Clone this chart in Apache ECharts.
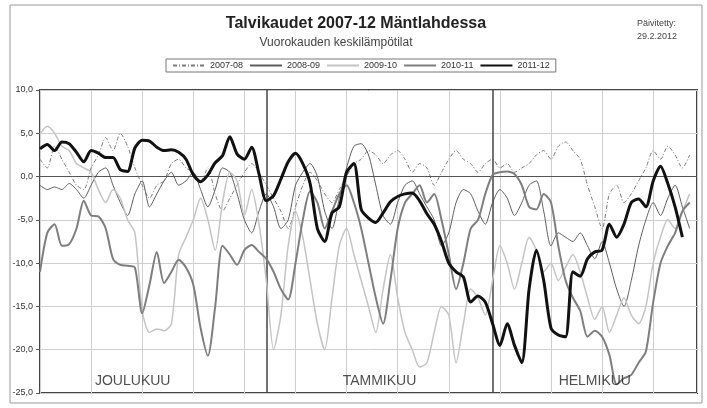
<!DOCTYPE html>
<html><head><meta charset="utf-8">
<script src="https://cdn.jsdelivr.net/npm/echarts@6/dist/echarts.min.js"></script>
<style>html,body{margin:0;padding:0;background:#fff}#c{width:707px;height:408px}</style>
</head><body><div id="c"></div>
<script>
const titleText = 'Talvikaudet 2007-12 Mäntlahdessa';
const subtitleText = 'Vuorokauden keskilämpötilat';
const updatedLines = ['Päivitetty:', '29.2.2012'];
const seriesNames = ['2007-08', '2008-09', '2009-10', '2010-11', '2011-12'];
const yTicks = [10, 5, 0, -5, -10, -15, -20, -25];
const monthNames = ['JOULUKUU', 'TAMMIKUU', 'HELMIKUU'];
const monthLabelDay = [12.7, 46.5, 76];
const monthStartDay = [31, 62];

const s0708 = [2.0,1.0,3.5,2.0,0.5,-1.0,-1.5,1.0,2.5,4.5,
 3.0,5.0,3.5,1.0,-1.0,-2.5,-1.0,-0.5,1.5,2.0,
 1.0,0.5,-0.5,1.0,-2.0,-4.0,-2.5,-1.0,0.5,1.5,
 0.5,-1.0,-2.5,-4.0,-6.0,-3.5,-1.0,0.5,-0.5,-2.0,
 -3.0,-1.5,0.0,1.5,2.0,3.0,2.5,1.5,2.5,3.0,
 2.0,0.5,1.5,1.0,-1.0,0.5,2.0,3.0,2.0,1.5,
 0.5,1.5,2.0,1.0,1.5,0.5,1.0,1.5,2.5,3.0,
 2.0,3.5,4.0,3.0,2.0,-1.0,-3.5,-6.0,-2.0,-1.0,
 -3.0,-2.0,-0.5,1.0,3.0,2.0,3.5,2.5,1.0,2.5];
const s0809 = [-1.0,-1.5,-1.2,-1.5,-0.8,-1.5,-2.5,-1.0,0.5,1.0,
 -1.0,-3.0,-4.5,-2.0,-0.5,-3.5,-2.0,-0.5,0.5,-1.0,
 -0.5,0.5,-1.5,-3.5,-1.5,1.0,0.5,-2.0,-5.0,-6.5,
 -4.0,-2.0,-3.5,-6.0,-5.0,-1.0,0.5,1.5,0.0,-4.0,
 -6.0,-2.5,1.0,3.5,3.8,2.5,-1.0,-4.5,-5.5,-3.0,
 -1.0,-0.5,-2.0,-3.5,-5.0,-8.0,-6.5,-3.0,-1.5,-2.0,
 -4.0,-5.5,-3.0,-1.5,-2.5,-4.5,-3.0,-1.0,-0.5,-4.0,
 -8.0,-6.5,-7.0,-7.5,-6.5,-8.0,-9.5,-7.5,-10.0,-13.0,
 -15.0,-12.0,-8.0,-5.0,-3.0,-4.5,-2.5,-1.0,-3.5,-6.0];
const s0910 = [4.9,5.8,5.0,3.5,3.0,1.5,1.0,0.5,-1.5,-3.0,
 -1.5,-2.5,-5.0,-6.5,-15.5,-18.0,-17.6,-17.8,-17.0,-9.0,
 -7.0,-5.0,-2.5,-5.0,-8.5,-3.0,0.5,-0.5,-4.5,-1.5,
 -5.5,-12.0,-20.0,-16.0,-8.0,-4.0,-7.0,-12.0,-17.0,-20.0,
 -14.0,-8.0,-6.0,-9.0,-12.0,-15.0,-18.0,-13.0,-9.0,-14.0,
 -18.0,-20.0,-22.0,-21.5,-18.0,-15.0,-16.0,-21.5,-17.0,-13.0,
 -14.0,-16.0,-12.0,-8.0,-10.0,-13.0,-10.0,-7.0,-8.5,-11.0,
 -10.0,-12.0,-10.5,-9.0,-11.0,-14.0,-16.5,-15.0,-18.0,-16.0,
 -14.0,-16.0,-17.0,-15.0,-10.0,-7.0,-5.0,-6.0,-4.0,-2.0];
const s1011 = [-11.0,-6.5,-5.5,-8.0,-7.8,-6.0,-2.8,-4.5,-4.6,-6.0,
 -9.5,-10.2,-10.3,-10.5,-15.8,-12.5,-8.7,-12.3,-11.0,-9.6,
 -10.5,-12.5,-17.5,-20.7,-15.0,-8.0,-9.0,-10.2,-8.5,-7.9,
 -8.7,-9.5,-11.0,-13.0,-14.2,-10.0,-5.0,-1.7,-3.0,-6.0,
 -4.0,-2.0,-1.0,-3.0,-6.0,-10.0,-14.0,-17.0,-12.0,-6.0,
 -3.0,-2.0,-1.0,-3.0,-2.0,-5.0,-9.0,-13.0,-10.0,-6.0,
 -5.0,-2.0,0.2,0.5,0.6,0.3,-1.0,-3.5,-3.8,-2.0,
 -3.0,-8.0,-12.0,-14.0,-15.5,-18.5,-17.8,-18.5,-20.6,-24.0,
 -23.3,-22.9,-21.5,-20.2,-14.5,-10.0,-8.0,-6.5,-4.0,-3.0];
const s1112 = [3.2,3.7,3.0,4.0,3.8,2.8,1.7,3.0,2.7,2.2,
 2.2,0.8,0.6,3.3,4.2,4.1,3.4,3.0,3.1,2.8,
 2.0,0.2,-0.6,0.2,1.6,2.4,4.6,2.6,2.0,3.4,
 0.3,-2.8,-2.2,-0.3,1.7,2.7,1.5,-0.8,-6.0,-7.5,
 -4.2,-3.5,0.5,1.5,-3.8,-4.8,-5.3,-4.2,-2.9,-2.3,
 -2.0,-1.9,-2.8,-4.3,-5.5,-7.5,-10.0,-11.0,-11.6,-14.5,
 -13.8,-14.5,-17.0,-19.5,-17.0,-19.5,-21.5,-13.0,-8.5,-12.0,
 -17.5,-18.3,-18.5,-11.0,-11.5,-9.5,-8.7,-8.5,-5.5,-7.0,
 -5.5,-3.0,-2.6,-3.5,-0.5,1.2,-0.8,-3.5,-7.0];

const allValues = [s0708, s0809, s0910, s1011, s1112];
const styles = [
  {color:'#7a7a7a', width:1, type:[4,2,1,2]},
  {color:'#5e5e5e', width:1, type:'solid'},
  {color:'#c4c4c4', width:1.5, type:'solid'},
  {color:'#7e7e7e', width:2, type:'solid'},
  {color:'#111111', width:3, type:'solid'}
];
const FONT = '"Liberation Sans", Arial, sans-serif';

const chart = echarts.init(document.getElementById('c'), null, {renderer:'canvas'});
const series = allValues.map((vals, k) => ({
  name: seriesNames[k],
  type: 'line',
  symbol: 'none',
  smooth: 0.25,
  data: vals.map((v, i) => [i, v]),
  lineStyle: styles[k],
  itemStyle: {color: styles[k].color},
  z: 3 + k,
  silent: true
}));
series[0].markLine = {
  silent: true, symbol: 'none', label: {show: false},
  data: monthStartDay.map(d => ({xAxis: d, lineStyle: {color:'#444', width:1.5, type:'solid'}}))
    .concat([{yAxis: 0, lineStyle: {color:'#555', width:1, type:'solid'}}])
};
series.push({
  type: 'scatter', symbolSize: 0, silent: true, z: 10,
  data: monthNames.map((n, i) => ({name: n, value: [monthLabelDay[i], -23.6]})),
  label: {show: true, position: 'inside', formatter: p => p.name, color: '#222', fontSize: 14, fontFamily: FONT}
});

chart.setOption({
  animation: false,
  backgroundColor: '#fff',
  textStyle: {fontFamily: FONT},
  graphic: [
    {type:'rect', shape:{x:10, y:5, width:692, height:398}, style:{fill:'none', stroke:'#999', lineWidth:1}, z:-10},
    {type:'text', x:356, y:16, style:{text:titleText, font:'bold 16px ' + FONT, fill:'#222', textAlign:'center'}},
    {type:'text', x:336, y:37, style:{text:subtitleText, font:'12px ' + FONT, fill:'#444', textAlign:'center'}},
    {type:'text', x:637, y:17, style:{text:updatedLines.join('\n'), font:'9px ' + FONT, fill:'#444', lineHeight:13}}
  ],
  legend: {
    data: seriesNames,
    left: 166, top: 59,
    borderColor: '#777', borderWidth: 1, padding: [2, 6],
    itemWidth: 32, itemHeight: 8, itemGap: 6,
    itemStyle: {opacity: 0},
    textStyle: {fontSize: 9, color: '#333', fontFamily: FONT}
  },
  grid: {left: 40, top: 90, right: 10, bottom: 15, show: true, borderColor: '#444', borderWidth: 2, backgroundColor: '#fff'},
  xAxis: {
    type: 'value', min: 0, max: 90, interval: 7,
    axisLine: {show: false}, axisTick: {show: false}, axisLabel: {show: false},
    splitLine: {show: true, lineStyle: {color: '#cfcfcf', width: 1}}
  },
  yAxis: {
    type: 'value', min: -25, max: 10, interval: 5,
    axisLine: {show: false},
    axisTick: {show: true, inside: false, length: 4, lineStyle: {color: '#555'}},
    axisLabel: {fontSize: 9, color: '#333', margin: 7, formatter: v => v.toFixed(1).replace('.', ',')},
    splitLine: {show: true, lineStyle: {color: '#cfcfcf', width: 1}}
  },
  series: series
});
</script></body></html>
